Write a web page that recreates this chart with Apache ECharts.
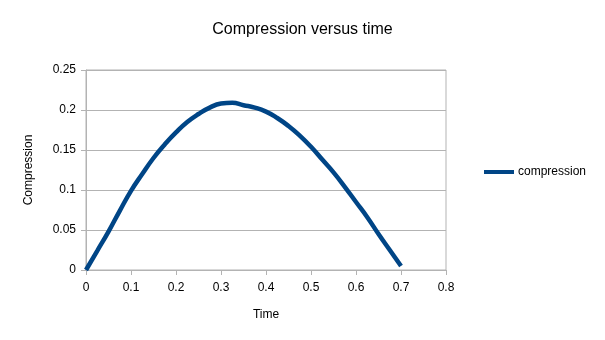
<!DOCTYPE html>
<html>
<head>
<meta charset="utf-8">
<script src="https://cdn.jsdelivr.net/npm/echarts@6/dist/echarts.min.js"></script>
<style>
  html, body { margin: 0; padding: 0; background: #fff; }
  #chart { width: 605px; height: 340px; }
</style>
</head>
<body>
<div id="chart"></div>
<script>
// Time (s) and compression values of the spring
const time = [0, 0.025, 0.05, 0.075, 0.1, 0.125, 0.15, 0.175, 0.2, 0.225, 0.25, 0.275, 0.3, 0.325, 0.35, 0.375, 0.4, 0.425, 0.45, 0.475, 0.5, 0.525, 0.55, 0.575, 0.6, 0.625, 0.65, 0.675, 0.7];
const compression = [0, 0.024, 0.048, 0.074, 0.099, 0.120, 0.140, 0.157, 0.172, 0.185, 0.195, 0.203, 0.208, 0.209, 0.206, 0.203, 0.198, 0.190, 0.180, 0.168, 0.154, 0.138, 0.122, 0.104, 0.085, 0.066, 0.045, 0.025, 0.005];
const xTicks = { min: 0, max: 0.8, step: 0.1 };
const yTicks = { min: 0, max: 0.25, step: 0.05 };

const points = time.map((t, i) => [t, compression[i]]);
const font = 'Liberation Sans, Arial, sans-serif';

const chart = echarts.init(document.getElementById('chart'), null, { renderer: 'canvas' });
chart.setOption({
  animation: false,
  title: {
    text: 'Compression versus time',
    left: 'center',
    top: 17,
    textStyle: { fontFamily: font, fontSize: 16, fontWeight: 'normal', color: '#000' }
  },
  legend: {
    left: 479,
    top: 161,
    icon: 'rect',
    itemWidth: 30,
    itemHeight: 4,
    itemGap: 5,
    textStyle: { fontFamily: font, fontSize: 12, color: '#000', padding: [0, 0, 0, -1] },
    data: ['compression']
  },
  grid: {
    left: 86, top: 70, right: 159, bottom: 70,
    show: true, borderColor: '#b3b3b3', borderWidth: 1
  },
  xAxis: {
    type: 'value',
    min: xTicks.min, max: xTicks.max, interval: xTicks.step,
    name: 'Time',
    nameLocation: 'middle',
    nameGap: 39,
    nameTextStyle: { fontFamily: font, fontSize: 12, color: '#000' },
    axisLine: { show: true, lineStyle: { color: '#b3b3b3' } },
    axisTick: { show: true, length: 5, lineStyle: { color: '#b3b3b3' } },
    axisLabel: { fontFamily: font, fontSize: 12, color: '#000', margin: 12,
      formatter: v => String(+v.toFixed(2)) },
    splitLine: { show: false }
  },
  yAxis: {
    type: 'value',
    min: yTicks.min, max: yTicks.max, interval: yTicks.step,
    name: 'Compression',
    nameLocation: 'middle',
    nameGap: 51,
    nameTextStyle: { fontFamily: font, fontSize: 12, color: '#000' },
    axisLine: { show: true, lineStyle: { color: '#b3b3b3' } },
    axisTick: { show: true, length: 5, lineStyle: { color: '#b3b3b3' } },
    axisLabel: { fontFamily: font, fontSize: 12, color: '#000', margin: 10,
      formatter: v => String(+v.toFixed(2)) },
    splitLine: { show: true, lineStyle: { color: '#b3b3b3' } }
  },
  series: [{
    name: 'compression',
    type: 'line',
    data: points,
    smooth: true,
    showSymbol: false,
    color: '#004586',
    lineStyle: { width: 4.5, color: '#004586' }
  }]
});
</script>
</body>
</html>
